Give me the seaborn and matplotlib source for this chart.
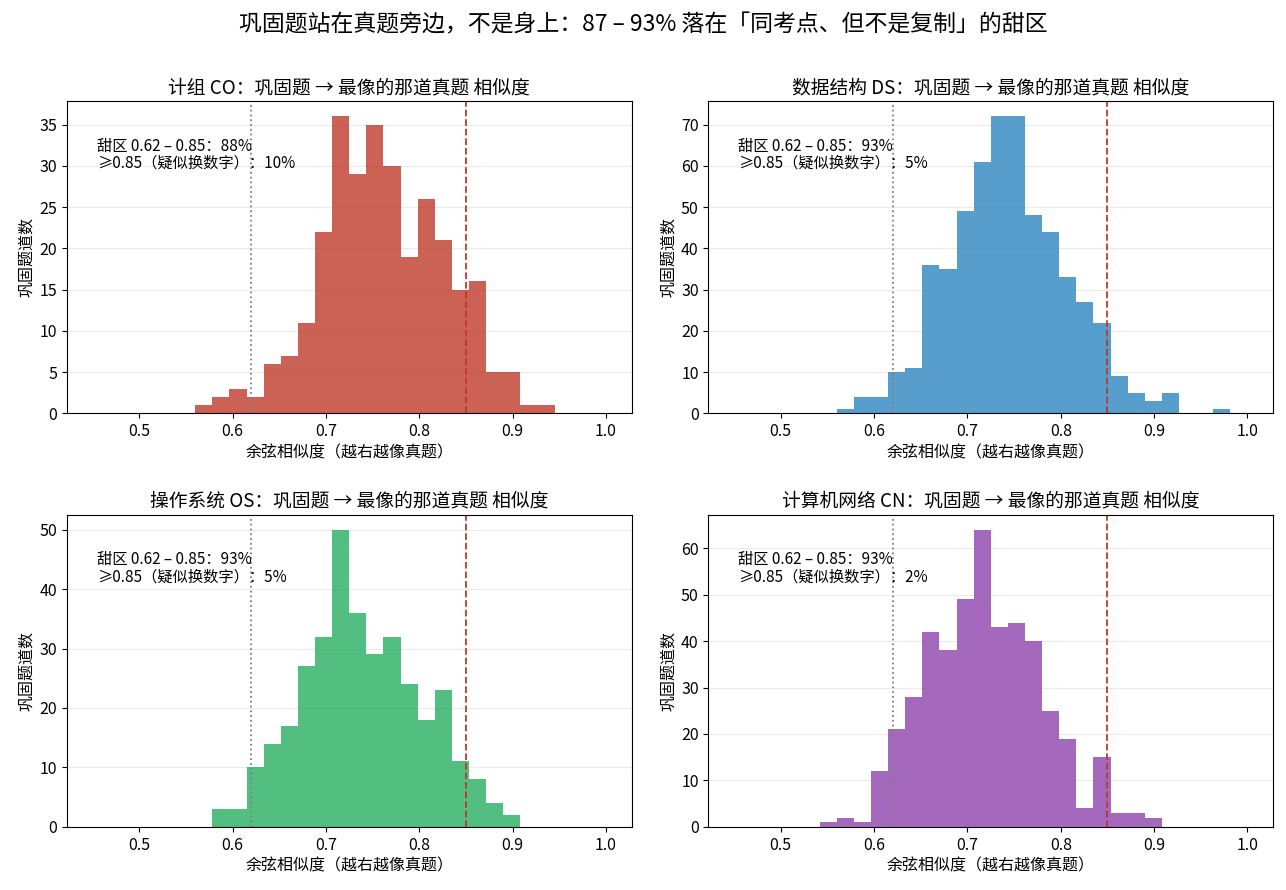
import numpy as np
import pandas as pd
import matplotlib
matplotlib.use("Agg")
import matplotlib.pyplot as plt
import seaborn as sns

# --- Data ---
BIN_EDGES = list(np.linspace(0.45, 1.0, 31))  # 30 bins, width ~0.0183

SUBJECTS = ["计组 CO", "数据结构 DS", "操作系统 OS", "计算机网络 CN"]
COLORS = ["#c0392b", "#2e86c1", "#27ae60", "#8e44ad"]

counts_co = [0, 0, 0, 0, 0, 0, 1, 2, 3, 2, 6, 7, 11, 22, 36, 29, 35, 30, 19, 26,
             21, 15, 16, 5, 5, 1, 1, 0, 0, 0]
counts_ds = [0, 0, 0, 0, 0, 0, 1, 4, 4, 10, 11, 36, 35, 49, 61, 72, 72, 48, 44, 33,
             27, 22, 9, 5, 3, 5, 0, 0, 1, 0]
counts_os = [0, 0, 0, 0, 0, 0, 0, 3, 3, 10, 14, 17, 27, 32, 50, 36, 29, 32, 24, 18,
             23, 11, 8, 4, 2, 0, 0, 0, 0, 0]
counts_cn = [0, 0, 0, 0, 0, 1, 2, 1, 12, 21, 28, 42, 38, 49, 64, 43, 44, 40, 25, 19,
             4, 15, 3, 3, 2, 0, 0, 0, 0, 0]
ALL_COUNTS = [counts_co, counts_ds, counts_os, counts_cn]

SWEET_PCT = [88, 93, 93, 93]
HIGH_PCT = [10, 5, 5, 2]

SWEET_LO = 0.62
SWEET_HI = 0.85

SUPTITLE = "巩固题站在真题旁边，不是身上：87 – 93% 落在「同考点、但不是复制」的甜区"

# --- Style ---
sns.set_style("ticks")
plt.rcParams["font.family"] = ["Noto Sans CJK SC", "DejaVu Sans"]
plt.rcParams["axes.unicode_minus"] = False
plt.rcParams["axes.edgecolor"] = "black"
plt.rcParams["xtick.color"] = "black"
plt.rcParams["ytick.color"] = "black"
plt.rcParams["text.color"] = "black"
plt.rcParams["axes.labelcolor"] = "black"

fig, axes = plt.subplots(2, 2, figsize=(12.86, 8.9), dpi=100)
fig.subplots_adjust(left=0.052, right=0.99, top=0.886, bottom=0.071,
                    wspace=0.136, hspace=0.325)
axes = axes.flatten()

edges = np.array(BIN_EDGES)
centers = (edges[:-1] + edges[1:]) / 2

for i, ax in enumerate(axes):
    df = pd.DataFrame({"sim": centers, "n": ALL_COUNTS[i]})
    sns.histplot(data=df, x="sim", weights="n", bins=BIN_EDGES,
                 color=COLORS[i], alpha=0.8, linewidth=0, ax=ax)
    ax.axvline(SWEET_LO, color="gray", linestyle=":", linewidth=1.3)
    ax.axvline(SWEET_HI, color="#c0392b", linestyle="--", linewidth=1.3)

    ax.set_title(f"{SUBJECTS[i]}：巩固题 → 最像的那道真题 相似度", fontsize=13.5)
    ax.set_xlabel("余弦相似度（越右越像真题）", fontsize=11.5, labelpad=3)
    ax.set_ylabel("巩固题道数", fontsize=11.5, labelpad=3)
    ax.tick_params(labelsize=11.5)
    ax.set_xticks([0.5, 0.6, 0.7, 0.8, 0.9, 1.0])
    ax.grid(axis="y", color="#dddddd", alpha=0.6)
    ax.set_axisbelow(True)

    ax.text(0.053, 0.885,
            f"甜区 {SWEET_LO} – {SWEET_HI}：{SWEET_PCT[i]}%\n≥{SWEET_HI}（疑似换数字）：{HIGH_PCT[i]}%",
            transform=ax.transAxes, fontsize=11, va="top", ha="left", linespacing=1.05)

fig.suptitle(SUPTITLE, fontsize=16.5, y=0.972, va="center")
plt.savefig("out.png", dpi=100)
